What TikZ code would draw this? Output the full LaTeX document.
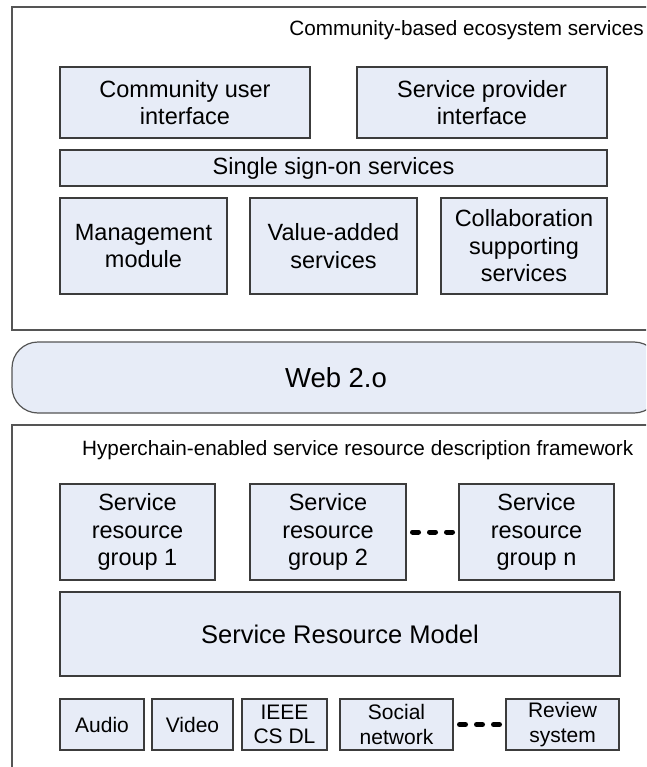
\documentclass[tikz,border=0pt]{standalone}
\usepackage{fontspec}
\setmainfont{Liberation Sans}
\definecolor{boxfill}{RGB}{231,236,247}
\definecolor{boxline}{RGB}{60,60,60}
\definecolor{frameline}{RGB}{85,85,85}
\begin{document}
\begin{tikzpicture}[x=1pt,y=-1pt,
  box/.style={draw=boxline, fill=boxfill, line width=1.2pt, inner sep=0pt, outer sep=0pt,
    align=center, font=\fontsize{23.5}{27.5}\selectfont},
  smallbox/.style={box, font=\fontsize{21}{24.5}\selectfont},
  frame/.style={draw=frameline, line width=1.2pt},
  titletext/.style={inner sep=0pt, font=\fontsize{20.7}{24}\selectfont},
  dots/.style={line width=5pt, line cap=round, dash pattern=on 6pt off 11pt,
    shorten <=6.5pt, shorten >=6.5pt}]
\useasboundingbox (0,0) rectangle (646,767);
\clip (0,0) rectangle (646,767);
\fill[white] (0,0) rectangle (646,767);

% outer frames
\draw[frame] (12,7) rectangle (680,330);
\draw[frame, fill=boxfill, rounded corners=26pt] (12,342) rectangle (660,413);
\draw[frame] (12,425) rectangle (680,800);

% top block
\node[titletext, anchor=base east] (ttop) at (644,36) {Community-based ecosystem services};
\node[box, minimum width=250, minimum height=71] (cui) at (185,102.5) {Community user\\interface};
\node[box, minimum width=250, minimum height=71] (spi) at (482,102.5) {Service provider\\interface};
\node[box, minimum width=547, minimum height=36] (sso) at (333.5,168) {Single sign-on services};
\node[box, minimum width=167, minimum height=96] (mgmt) at (143.5,246) {Management\\module};
\node[box, minimum width=167, minimum height=96] (vas) at (333.5,246) {Value-added\\services};
\node[box, minimum width=166, minimum height=96] (css) at (524,246) {Collaboration\\supporting\\services};

% web 2.0
\node[inner sep=0pt, font=\fontsize{27.5}{30}\selectfont] (web) at (336,377.5) {Web 2.o};

% bottom block
\node[titletext, anchor=base west] (tbot) at (82,455) {Hyperchain-enabled service resource description framework};
\node[box, minimum width=155, minimum height=96] (srg1) at (137.5,532) {Service\\resource\\group 1};
\node[box, minimum width=156, minimum height=96] (srg2) at (328,532) {Service\\resource\\group 2};
\node[box, minimum width=155, minimum height=96] (srgn) at (536.5,532) {Service\\resource\\group n};
\draw[dots] (srg2.east) -- (srgn.west);
\node[box, minimum width=560, minimum height=84, font=\fontsize{25.5}{30}\selectfont] (srm) at (340,634) {Service Resource Model};

\node[smallbox, minimum width=84, minimum height=51] (audio) at (102,724.5) {Audio};
\node[smallbox, minimum width=81, minimum height=51] (video) at (192.5,724.5) {Video};
\node[smallbox, minimum width=85, minimum height=51] (ieee) at (284.5,724.5) {IEEE\\CS DL};
\node[smallbox, minimum width=113, minimum height=51] (social) at (396.5,724.5) {Social\\network};
\node[smallbox, minimum width=113, minimum height=51] (review) at (562.5,724.5) {Review\\system};
\draw[dots] (social.east) -- (review.west);
\end{tikzpicture}
\end{document}
